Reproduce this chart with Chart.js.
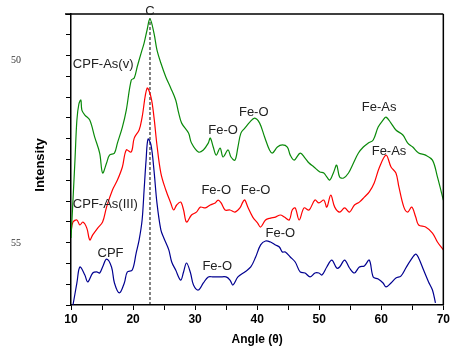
<!DOCTYPE html>
<html><head><meta charset="utf-8">
<script src="https://cdn.jsdelivr.net/npm/chart.js@4/dist/chart.umd.min.js"></script>
<style>html,body{margin:0;padding:0;background:#fff}canvas{display:block}</style>
</head><body>
<canvas id="c" width="452" height="347"></canvas>
<script>
// CPF-As(v) (green)
const greenAngle = [10.0,10.32,10.64,10.95,11.27,11.59,11.75,12.23,13.02,13.82,14.62,15.09,15.73,16.21,17.0,17.48,18.28,18.91,19.71,20.19,20.66,21.3,21.78,22.26,22.73,23.37,23.85,24.48,25.28,26.07,26.87,27.35,27.83,28.94,29.42,30.53,31.33,32.12,32.44,32.92,33.4,34.03,34.51,35.31,35.78,36.42,36.9,37.38,38.01,38.81,39.6,40.4,41.2,41.99,42.47,43.26,44.06,44.86,45.33,45.97,46.93,47.72,48.36,49.15,50.11,50.74,51.22,51.7,52.34,52.81,53.29,53.93,54.72,55.52,56.32,57.11,57.91,58.7,59.5,60.29,60.77,61.57,62.36,63.48,64.27,65.07,66.02,67.14,68.25,69.05,70.0];
const greenIntensity = [3.22,5.05,6.97,8.9,9.67,9.86,9.38,9.14,8.9,8.08,7.31,6.35,6.83,7.21,7.31,7.79,8.56,9.38,10.82,10.92,11.45,12.12,12.6,13.23,13.76,13.08,12.27,11.64,10.97,10.44,9.86,9.24,8.75,8.27,7.79,7.36,7.46,7.79,8.03,7.6,7.21,7.55,7.12,7.46,7.12,6.97,7.6,8.27,8.51,8.8,8.99,8.75,8.08,7.46,7.31,7.6,7.7,7.6,7.21,6.97,7.31,7.07,6.83,6.64,6.4,6.35,6.16,6.01,6.4,6.73,6.16,6.11,6.35,6.83,7.31,7.6,7.79,7.94,8.56,8.9,9.04,8.75,8.42,8.18,7.79,7.6,7.31,7.21,6.97,6.16,5.05];
// CPF-As(III) (red)
const redAngle = [10.0,10.32,10.95,11.43,11.91,12.55,13.02,13.5,14.3,15.09,15.73,16.68,17.48,18.28,18.91,19.71,20.19,20.98,21.46,22.26,22.89,23.37,23.85,24.48,25.28,26.07,26.55,27.03,27.67,28.14,28.62,29.42,30.21,30.85,31.65,32.44,33.24,33.71,34.19,34.83,35.62,36.42,37.22,37.69,38.01,38.49,39.29,40.08,40.56,41.35,42.15,42.95,43.74,44.38,45.17,45.65,46.13,46.77,47.56,48.36,49.31,49.95,50.74,51.22,51.86,52.5,53.29,54.09,54.88,55.68,56.47,57.27,58.07,58.86,59.66,60.77,61.57,62.36,62.84,63.64,64.27,64.91,65.55,66.02,67.14,68.25,69.05,70.0];
const redIntensity = [3.51,3.99,4.09,3.85,3.99,3.7,3.13,3.37,3.7,3.99,4.71,5.53,6.01,6.64,7.46,7.36,8.03,8.42,9.04,10.43,10.0,9.04,7.7,6.35,5.53,4.91,4.57,4.81,4.95,4.57,3.99,4.33,4.47,4.71,4.67,4.81,4.91,5.05,4.91,4.57,4.57,4.47,4.67,4.95,5.05,4.71,4.23,3.94,3.75,4.09,4.18,4.23,4.33,4.23,4.09,4.57,4.67,4.09,4.67,4.57,5.05,4.91,5.05,4.71,5.29,4.71,4.47,4.67,4.47,4.81,4.95,5.19,5.44,5.87,6.59,7.21,6.64,6.35,5.68,4.71,4.47,4.71,4.23,3.85,3.75,3.46,3.03,2.65];
// CPF (navy)
const blueAngle = [10.32,10.95,11.43,12.23,12.71,13.5,14.14,14.62,15.09,15.73,16.53,17.0,17.8,18.59,19.07,19.87,20.5,20.98,21.46,21.78,22.1,22.41,22.89,23.37,23.85,24.48,24.96,25.76,26.23,26.87,27.67,28.14,28.62,29.26,29.74,30.53,31.33,32.12,32.92,34.03,34.99,35.62,36.1,36.9,38.01,38.97,39.76,40.56,41.35,42.15,42.95,43.58,44.06,44.54,45.33,46.13,46.93,47.72,48.52,49.31,49.95,50.43,51.22,52.02,52.81,53.29,54.09,54.88,55.68,56.47,57.27,58.07,58.7,59.5,60.29,60.77,61.57,62.36,63.16,63.96,64.75,65.55,66.02,66.82,67.62,68.25,68.73];
const blueIntensity = [0.0,1.06,1.83,1.44,1.11,1.54,1.59,1.54,1.83,2.21,1.83,1.06,0.58,1.06,1.59,1.68,2.5,3.13,4.09,5.53,6.97,7.98,7.7,6.49,4.91,3.61,3.22,2.65,2.07,1.68,1.2,1.59,2.02,1.54,0.96,0.72,1.06,1.35,1.35,1.35,1.35,1.2,0.96,1.35,1.59,1.83,2.31,2.89,3.08,3.03,2.89,2.79,2.55,2.55,2.31,2.07,1.59,1.54,1.35,1.54,1.54,1.44,1.83,2.16,1.78,1.83,2.16,1.78,1.54,1.83,1.88,2.16,1.35,1.25,1.06,0.87,1.06,1.3,1.39,1.78,2.16,2.45,2.26,1.68,1.11,0.72,0.1];
// reference line for the "C" peak
const cPeakAngle = [22.73, 22.73];
const cPeakIntensity = [0, 13.8];
// text labels: [text, angle, intensity, align]
const peakLabels = [
  ['C', 22.73, 14.1, 'center'],
  ['CPF-As(v)', 10.3, 11.59, 'left'],
  ['Fe-O', 34.51, 8.42, 'center'],
  ['Fe-O', 39.45, 9.28, 'center'],
  ['Fe-As', 59.66, 9.52, 'center'],
  ['Fe-As', 61.25, 7.41, 'center'],
  ['CPF-As(III)', 10.3, 4.86, 'left'],
  ['Fe-O', 33.4, 5.53, 'center'],
  ['Fe-O', 39.76, 5.53, 'center'],
  ['CPF', 16.37, 2.5, 'center'],
  ['Fe-O', 43.74, 3.46, 'center'],
  ['Fe-O', 33.56, 1.88, 'center']
];
const strayLabels = [['50', 16, 60], ['55', 16, 243]];
const xTitle = 'Angle (θ)';
const yTitle = 'Intensity';

const pts = (a, b) => a.map((v, i) => ({x: v, y: b[i]}));
const lineDs = (data, color) => ({data, borderColor: color, borderWidth: 1.2, pointRadius: 0, tension: 0.35, fill: false});

const overlay = {
  id: 'overlay',
  afterDraw(chart) {
    const ctx = chart.ctx, a = chart.chartArea, xs = chart.scales.x, ys = chart.scales.y;
    ctx.save();
    ctx.strokeStyle = '#000';
    ctx.lineWidth = 1.5;
    ctx.beginPath();
    ctx.moveTo(a.left - 6, a.top); ctx.lineTo(a.right, a.top);
    ctx.moveTo(a.right, a.top); ctx.lineTo(a.right, a.bottom);
    ctx.stroke();
    ctx.fillStyle = '#222';
    ctx.font = '13px "Liberation Sans", Arial, sans-serif';
    ctx.textBaseline = 'middle';
    peakLabels.forEach(([t, x, y, al]) => {
      ctx.textAlign = al;
      ctx.fillText(t, xs.getPixelForValue(x), ys.getPixelForValue(y));
    });
    ctx.fillStyle = '#000';
    ctx.font = 'bold 12px "Liberation Sans", Arial, sans-serif';
    ctx.textAlign = 'center';
    ctx.fillText(xTitle, (a.left + a.right) / 2, 340);
    ctx.save();
    ctx.translate(40, 165);
    ctx.rotate(-Math.PI / 2);
    ctx.font = 'bold 13px "Liberation Sans", Arial, sans-serif';
    ctx.fillText(yTitle, 0, 0);
    ctx.restore();
    ctx.fillStyle = '#333';
    ctx.font = '10px "Liberation Serif", "Times New Roman", serif';
    strayLabels.forEach(([t, x, y]) => ctx.fillText(t, x, y));
    ctx.restore();
  }
};

new Chart(document.getElementById('c'), {
  type: 'line',
  data: {
    datasets: [
      lineDs(pts(greenAngle, greenIntensity), '#0a8a0a'),
      lineDs(pts(redAngle, redIntensity), '#ff0000'),
      lineDs(pts(blueAngle, blueIntensity), '#000090'),
      {data: pts(cPeakAngle, cPeakIntensity), borderColor: '#000', borderWidth: 1, borderDash: [3, 2], pointRadius: 0, fill: false}
    ]
  },
  options: {
    responsive: false,
    animation: false,
    events: [],
    layout: {padding: {top: 14, right: 4, left: 0, bottom: 0}},
    plugins: {legend: {display: false}, tooltip: {enabled: false}},
    scales: {
      x: {
        type: 'linear', min: 10, max: 70,
        ticks: {stepSize: 5, autoSkip: false, maxRotation: 0, padding: 2, color: '#000',
          font: {family: '"Liberation Sans", Arial, sans-serif', size: 12, weight: 'bold'},
          callback: v => (v % 10 === 0 ? String(v) : '')},
        grid: {drawOnChartArea: false, drawTicks: true, tickLength: 5, color: '#000', lineWidth: 1},
        border: {color: '#000', width: 1.5},
        afterFit: s => { s.height = 42; }
      },
      y: {
        min: 0, max: 14,
        ticks: {stepSize: 1, autoSkip: false, callback: () => ''},
        grid: {drawOnChartArea: false, drawTicks: true, tickLength: 5, color: '#000', lineWidth: 1},
        border: {color: '#000', width: 1.5},
        afterFit: s => { s.width = 71; }
      }
    }
  },
  plugins: [overlay]
});
</script>
</body></html>
